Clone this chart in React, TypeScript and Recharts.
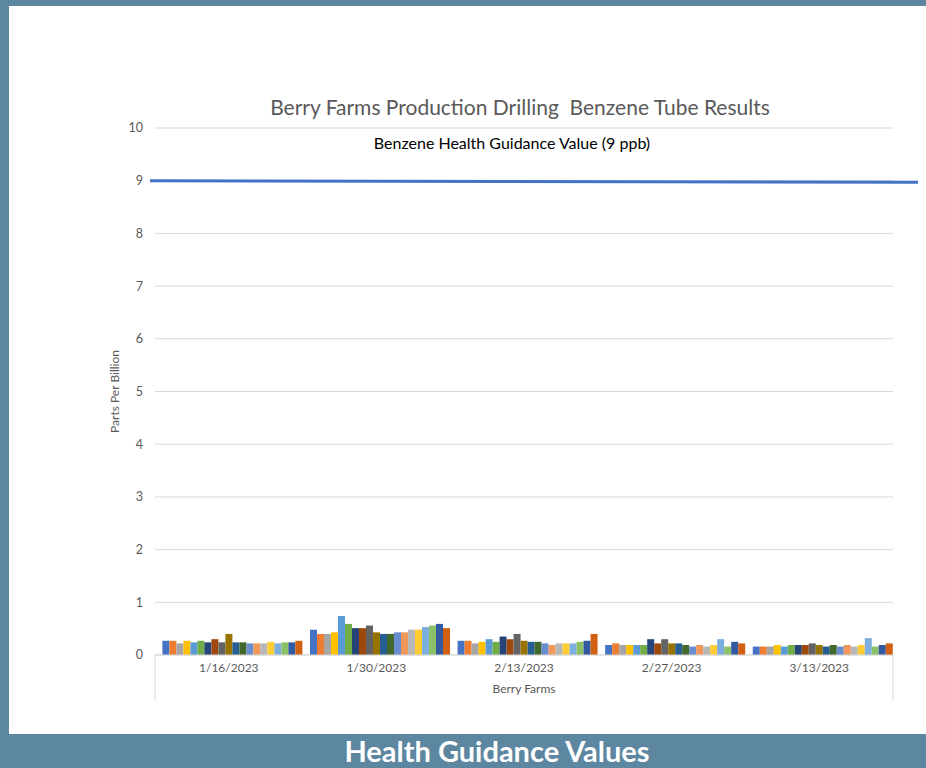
import { useEffect } from 'react';
import {
  BarChart,
  Bar,
  XAxis,
  YAxis,
  CartesianGrid,
  ReferenceLine,
  usePlotArea,
} from 'recharts';

const dates = ['1/16/2023', '1/30/2023', '2/13/2023', '2/27/2023', '3/13/2023'];

// one value per tube (20 tubes) for each sampling date, ppb
const jan16 = [0.27, 0.27, 0.22, 0.27, 0.24, 0.27, 0.24, 0.3, 0.24, 0.4, 0.24, 0.24, 0.22, 0.22, 0.22, 0.25, 0.22, 0.24, 0.24, 0.27];
const jan30 = [0.48, 0.4, 0.4, 0.43, 0.74, 0.59, 0.51, 0.51, 0.56, 0.43, 0.4, 0.4, 0.43, 0.43, 0.48, 0.48, 0.53, 0.56, 0.59, 0.51];
const feb13 = [0.27, 0.27, 0.22, 0.25, 0.3, 0.25, 0.35, 0.3, 0.4, 0.27, 0.25, 0.25, 0.22, 0.19, 0.22, 0.22, 0.22, 0.25, 0.27, 0.4];
const feb27 = [0.19, 0.22, 0.19, 0.19, 0.19, 0.19, 0.3, 0.22, 0.3, 0.22, 0.22, 0.19, 0.16, 0.19, 0.16, 0.19, 0.3, 0.16, 0.25, 0.22];
const mar13 = [0.16, 0.16, 0.16, 0.19, 0.16, 0.19, 0.19, 0.19, 0.22, 0.19, 0.16, 0.19, 0.16, 0.19, 0.16, 0.19, 0.32, 0.16, 0.19, 0.22];

const yTicks = [0, 1, 2, 3, 4, 5, 6, 7, 8, 9, 10];
const guidanceValue = 9;

const palette = [
  '#4472C4', '#ED7D31', '#A5A5A5', '#FFC000', '#5B9BD5',
  '#70AD47', '#264478', '#9E480E', '#636363', '#997300',
  '#255E91', '#43682B', '#698ED0', '#F1975A', '#B7B7B7',
  '#FFCD33', '#7CAFDD', '#8CC168', '#335AA1', '#D26012',
];

const seriesByDate = [jan16, jan30, feb13, feb27, mar13];
const seriesKeys = jan16.map((_, i) => `tube${i + 1}`);

const data = dates.map((name, d) => {
  const row: Record<string, string | number> = { name };
  seriesKeys.forEach((k, i) => {
    row[k] = seriesByDate[d][i];
  });
  return row;
});

const FONT = 'Lato, "Open Sans", sans-serif';
const AXIS_GRAY = '#595959';

// Excel-style outer box of the multi-level category axis
function CategoryBox() {
  const plot = usePlotArea();
  if (!plot) return null;
  const bottom = plot.y + plot.height;
  return (
    <g>
      <line x1={plot.x} y1={bottom} x2={plot.x} y2={bottom + 45} stroke="#d9d9d9" />
      <line x1={plot.x + plot.width} y1={bottom} x2={plot.x + plot.width} y2={bottom + 45} stroke="#d9d9d9" />
      <text
        x={plot.x + plot.width / 2}
        y={bottom + 38}
        textAnchor="middle"
        fontSize={12}
        fill={AXIS_GRAY}
        fontFamily={FONT}
      >
        Berry Farms
      </text>
    </g>
  );
}

function GuidanceLine(props: any) {
  const { x1, y1, x2, y2 } = props;
  return (
    <line
      x1={x1 - 5}
      y1={y1}
      x2={x2 + 25}
      y2={y2 + 1.5}
      stroke="#4472C4"
      strokeWidth={3}
    />
  );
}

export default function App() {
  useEffect(() => {
    document.body.style.margin = '0';
  }, []);

  return (
    <div
      style={{
        position: 'relative',
        width: 926,
        height: 768,
        background: '#5d86a0',
        overflow: 'hidden',
        fontFamily: FONT,
      }}
    >
      <div
        style={{
          position: 'absolute',
          left: 9,
          top: 6,
          width: 917,
          height: 728,
          background: '#ffffff',
        }}
      />
      <div
        style={{
          position: 'absolute',
          left: 0,
          top: 94,
          width: 1040,
          textAlign: 'center',
          fontSize: 21,
          color: AXIS_GRAY,
          whiteSpace: 'pre',
        }}
      >
        {'Berry Farms Production Drilling  Benzene Tube Results'}
      </div>
      <div
        style={{
          position: 'absolute',
          left: 0,
          top: 733,
          width: 994,
          textAlign: 'center',
          fontSize: 29,
          fontWeight: 700,
          color: '#ffffff',
        }}
      >
        Health Guidance Values
      </div>
      <div style={{ position: 'absolute', left: 0, top: 0 }}>
        <BarChart
          width={926}
          height={768}
          data={data}
          margin={{ top: 128, right: 33, bottom: 0, left: 95 }}
          barCategoryGap="5%"
          barGap={0}
        >
          <CartesianGrid vertical={false} stroke="#d9d9d9" />
          <XAxis
            dataKey="name"
            tickLine={false}
            axisLine={{ stroke: '#d9d9d9' }}
            tick={{ fill: AXIS_GRAY, fontSize: 12, fontFamily: FONT }}
            height={113}
            interval={0}
          />
          <YAxis
            width={60}
            domain={[0, 10]}
            ticks={yTicks}
            axisLine={false}
            tickLine={false}
            tickMargin={6}
            tick={{ fill: AXIS_GRAY, fontSize: 12.5, fontFamily: FONT }}
            label={{
              value: 'Parts Per Billion',
              angle: -90,
              position: 'insideLeft',
              offset: 20,
              style: { textAnchor: 'middle', fill: AXIS_GRAY, fontSize: 12, fontFamily: FONT },
            }}
          />
          {seriesKeys.map((k, i) => (
            <Bar key={k} dataKey={k} fill={palette[i]} isAnimationActive={false} />
          ))}
          <ReferenceLine
            y={guidanceValue}
            shape={GuidanceLine}
            label={{
              value: 'Benzene Health Guidance Value (9 ppb)',
              position: 'top',
              offset: 32,
              dx: -12,
              fill: '#000000',
              fontSize: 16,
              fontFamily: FONT,
            }}
          />
          <CategoryBox />
        </BarChart>
      </div>
    </div>
  );
}
